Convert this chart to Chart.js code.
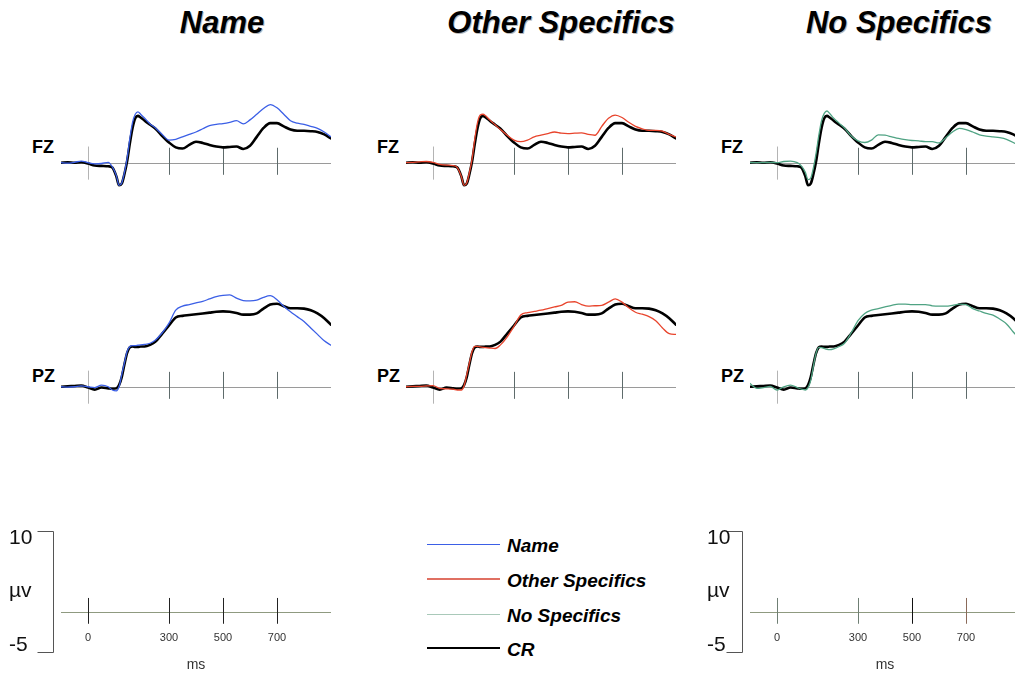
<!DOCTYPE html>
<html>
<head>
<meta charset="utf-8">
<script src="https://cdn.jsdelivr.net/npm/chart.js@4.4.1/dist/chart.umd.min.js"></script>
<style>
html,body{margin:0;padding:0;background:#fff;overflow:hidden;width:1015px;height:675px;position:relative;}
canvas{position:absolute;}
.title{position:absolute;top:7px;width:340px;text-align:center;font-family:"Liberation Sans",Arial,sans-serif;font-weight:bold;font-style:italic;font-size:31px;line-height:31px;color:#000;text-shadow:1px 1px 0 #b8b8b8;white-space:nowrap;}
.elec{position:absolute;font-family:"Liberation Sans",Arial,sans-serif;font-weight:bold;font-size:18px;line-height:18px;color:#000;}
.legtxt{position:absolute;left:507px;font-family:"Liberation Sans",Arial,sans-serif;font-weight:bold;font-style:italic;font-size:19px;line-height:19px;color:#000;white-space:nowrap;}
.legline{position:absolute;left:427px;width:73px;}
</style>
</head>
<body>
<script>
// ---------------- data ----------------
const TIMES = [-100,-75,-50,-25,0,25,50,75,90,105,115,125,135,145,155,165,175,185,195,210,230,250,
  275,300,325,350,375,400,425,450,475,500,525,550,575,600,625,650,675,700,725,750,775,800,825,850,875,900];

const FZ_CR = [0,0.05,0,0.05,-0.1,-0.35,-0.4,-0.45,
  -0.6,-1.7,-2.8,-2.6,-1.4,0.2,2.4,4.3,5.5,5.8,5.6,
  5.2,4.7,4.2,
  3.3,2.5,1.9,1.75,2.2,2.6,2.45,2.2,2.0,1.9,1.95,2.0,1.7,2.1,3.2,4.3,4.9,4.9,4.5,4.1,3.95,3.95,3.9,3.8,3.5,3.0];
const FZ_NAME = [0,-0.05,0.05,0.2,0.0,-0.15,-0.1,0.05,
  -0.5,-1.6,-2.8,-2.5,-1.2,0.6,3.0,5.0,6.0,6.3,6.0,
  5.5,4.8,4.3,
  3.5,2.8,2.9,3.2,3.5,3.8,4.2,4.6,4.75,4.85,5.0,5.2,4.8,5.3,6.0,6.7,7.2,6.8,6.0,5.2,4.9,4.75,4.5,4.25,3.8,3.2];
const FZ_OTHER = [0,0.05,0.1,0.15,0.05,-0.2,-0.3,-0.35,
  -0.6,-1.7,-2.8,-2.5,-1.2,0.5,3.0,5.0,5.9,6.0,5.8,
  5.3,4.7,4.1,
  3.4,2.8,2.6,2.8,3.2,3.4,3.6,3.8,3.65,3.6,3.65,3.7,3.5,3.4,4.5,5.5,5.9,5.6,5.0,4.5,4.2,4.0,4.0,3.9,3.5,3.2];
const FZ_NOSPEC = [0,0,0,0.05,0,0.15,0.2,0.0,
  -0.4,-1.2,-2.1,-1.9,-0.6,1.2,3.4,5.2,6.1,6.4,6.1,
  5.5,4.9,4.3,
  3.3,2.7,2.5,2.8,3.45,3.4,3.2,3.0,2.85,2.75,2.7,2.6,2.6,2.45,3.1,3.8,4.25,4.1,3.8,3.45,3.3,3.2,3.1,2.9,2.5,2.0];

const PZ_CR = [0,0.05,0.1,0.15,-0.1,-0.35,-0.1,-0.2,
  -0.25,-0.2,0.2,1.2,2.8,4.2,4.9,5.0,4.95,4.95,5.0,
  5.0,5.2,5.6,
  6.6,7.6,8.6,8.8,8.9,9.0,9.1,9.2,9.3,9.35,9.3,9.15,8.95,8.95,9.1,9.7,10.2,10.3,10.0,9.75,9.75,9.7,9.5,9.1,8.5,7.7];
const PZ_NAME = [0,-0.05,0,0.1,0,-0.1,0.2,0,
  -0.4,-0.5,0.0,1.5,3.0,4.4,5.0,5.1,5.1,5.15,5.2,
  5.25,5.4,5.8,
  6.7,7.9,9.5,10.0,10.2,10.4,10.6,10.9,11.2,11.35,11.4,11.0,10.7,10.65,10.75,11.1,11.3,10.8,10.0,9.3,8.7,8.1,7.3,6.5,5.7,5.15];
const PZ_OTHER = [0,0.05,0.05,0.1,0.15,-0.2,-0.25,-0.3,
  -0.4,-0.4,0.1,1.5,3.0,4.4,5.0,5.0,4.95,4.9,4.85,
  4.8,4.75,5.2,
  6.2,7.5,8.9,9.2,9.35,9.5,9.7,9.9,10.1,10.5,10.55,10.2,10.0,10.05,10.1,10.5,10.9,10.5,9.8,9.25,9.0,8.7,8.2,7.3,6.6,6.5];
const PZ_NOSPEC = [0.4,-0.2,-0.1,0.05,-0.4,0,0.2,-0.1,
  -0.3,-0.4,-0.1,0.8,2.6,4.2,4.9,4.85,4.75,4.65,4.6,
  4.7,5.0,5.4,
  6.7,8.2,9.1,9.5,9.7,9.9,10.1,10.25,10.25,10.2,10.2,10.2,10.05,10.0,10.0,10.1,10.25,10.2,9.7,9.4,9.1,8.9,8.4,7.8,6.8,5.9];

const CONDITIONS = ['Name','Other Specifics','No Specifics'];
const ELECTRODES = ['FZ','PZ'];
const LEGEND_LABELS = ['Name','Other Specifics','No Specifics','CR'];
const TICK_MS = [0,300,500,700];
const SCALE_UV = [10,-5];
const SCALE_UNIT = 'µv';
const TIME_UNIT = 'ms';

// ---------------- styles ----------------
const COND_COLORS = ['#3b5fe6','#e8442c','#4fa383'];
const LEGEND_COLORS = ['#3b5fe6','#e07062','#a9c9b9','#000000'];
const LEGEND_WIDTHS = [1,1.5,1,2.6];
const COL_LEFT = [61,406,750];        // pixel of -100 ms in each column
const PX_PER_MS = 0.27;
const ROWS = [{top:90,h:105,min:-4,max:9},{top:282,h:137,min:-4,max:13}];

// ---------------- plugin: baseline, ticks, scale labels ----------------
const erpAxis = {
  id:'erpAxis',
  beforeDatasetsDraw(chart, args, o){
    const {ctx, scales:{x,y}, chartArea} = chart;
    const y0 = Math.round(y.getPixelForValue(0)) + 0.5;
    ctx.save();
    ctx.lineWidth = 1;
    ctx.strokeStyle = o.baseColor;
    ctx.beginPath();
    ctx.moveTo(x.getPixelForValue(-100), y0);
    ctx.lineTo(x.getPixelForValue(900), y0);
    ctx.stroke();
    TICK_MS.forEach((t,i)=>{
      const px = Math.round(x.getPixelForValue(t)) + 0.5;
      const up = i===0 ? o.zeroUp : o.tickUp;
      const dn = i===0 ? o.zeroDn : o.tickDn;
      ctx.strokeStyle = (o.tickColors && o.tickColors[i]) || (i===0 ? o.zeroColor : o.tickColor);
      ctx.beginPath();
      ctx.moveTo(px, y.getPixelForValue(up));
      ctx.lineTo(px, y.getPixelForValue(-dn));
      ctx.stroke();
    });
    if (o.labels){
      ctx.fillStyle = '#333';
      ctx.font = '11px "Liberation Sans", Arial, sans-serif';
      ctx.textAlign = 'center';
      ctx.textBaseline = 'middle';
      TICK_MS.forEach(t=>{
        ctx.fillText(String(t), x.getPixelForValue(t), y0 + 25);
      });
      ctx.font = '14px "Liberation Sans", Arial, sans-serif';
      ctx.fillText(TIME_UNIT, x.getPixelForValue(400), y0 + 53);
      // bracket
      const bx = Math.round(chartArea.left - 8) + 0.5;
      const yt = Math.round(y.getPixelForValue(SCALE_UV[0])) + 0.5;
      const yb = Math.round(y.getPixelForValue(SCALE_UV[1])) + 0.5;
      ctx.strokeStyle = '#555';
      ctx.beginPath();
      ctx.moveTo(bx - 16, yt); ctx.lineTo(bx, yt); ctx.lineTo(bx, yb); ctx.lineTo(bx - 16, yb);
      ctx.stroke();
      ctx.fillStyle = '#111';
      ctx.font = '21px "Liberation Sans", Arial, sans-serif';
      ctx.textAlign = 'left';
      const lx = chartArea.left + o.labelDx;
      ctx.fillText(String(SCALE_UV[0]), lx, yt + 7);
      ctx.fillText(SCALE_UNIT, lx, y.getPixelForValue((SCALE_UV[0]+SCALE_UV[1])/2));
      ctx.fillText(String(SCALE_UV[1]), lx, yb - 7);
    }
    ctx.restore();
  }
};

function makeCanvas(left, top, w, h){
  const c = document.createElement('canvas');
  c.width = w; c.height = h;
  c.style.left = left + 'px'; c.style.top = top + 'px';
  c.style.width = w + 'px'; c.style.height = h + 'px';
  document.body.appendChild(c);
  return c;
}

function makeChart(canvas, padding, yMin, yMax, datasets, axisOpts){
  return new Chart(canvas, {
    type:'line',
    data:{datasets},
    options:{
      responsive:false, animation:false, events:[],
      devicePixelRatio:1,
      layout:{padding},
      plugins:{legend:{display:false}, tooltip:{enabled:false}, erpAxis:axisOpts},
      scales:{
        x:{type:'linear', min:-100, max:900, display:false},
        y:{type:'linear', min:yMin, max:yMax, display:false}
      },
      elements:{
        point:{radius:0},
        line:{cubicInterpolationMode:'monotone', borderCapStyle:'round', borderJoinStyle:'round'}
      }
    },
    plugins:[erpAxis]
  });
}

const pts = arr => TIMES.map((t,i)=>({x:t, y:arr[i]}));

const SERIES = {
  FZ:{cr:FZ_CR, cond:[FZ_NAME, FZ_OTHER, FZ_NOSPEC]},
  PZ:{cr:PZ_CR, cond:[PZ_NAME, PZ_OTHER, PZ_NOSPEC]}
};

const W = Math.round(1000 * PX_PER_MS); // 270 px for -100..900 ms

// titles
CONDITIONS.forEach((name,ci)=>{
  const d = document.createElement('div');
  d.className = 'title';
  d.textContent = name;
  const center = COL_LEFT[ci] + 27 + 400*PX_PER_MS + [26,20,14][ci];
  d.style.left = (center - 170) + 'px';
  document.body.appendChild(d);
});

// panels
ELECTRODES.forEach((el,ri)=>{
  const row = ROWS[ri];
  CONDITIONS.forEach((name,ci)=>{
    const cv = makeCanvas(COL_LEFT[ci], row.top, W, row.h);
    makeChart(cv, 0, row.min, row.max, [
      {label:name, data:pts(SERIES[el].cond[ci]), borderColor:COND_COLORS[ci], borderWidth:1.3, fill:false},
      {label:'CR', data:pts(SERIES[el].cr), borderColor:'#000', borderWidth:2.6, fill:false}
    ], {
      baseColor:'#9a9a9a', zeroColor:'#b4b4b4', tickColor:'#5e6b6b',
      zeroUp:2.0, zeroDn:2.1, tickUp:1.85, tickDn:1.5
    });
    const lab = document.createElement('div');
    lab.className = 'elec';
    lab.textContent = el;
    lab.style.left = (COL_LEFT[ci] - 29) + 'px';
    lab.style.top = (ri===0 ? 138 : 367) + 'px';
    document.body.appendChild(lab);
  });
});

// scale panels (left and right)
[{left:0, w:340, padL:61, labelDx:-52, tickColors:['#222','#222','#222','#222']},
 {left:690, w:340, padL:60, labelDx:-43, tickColors:['#6f7f74','#6f7f74','#111','#8a6a5a']}].forEach(s=>{
  const cv = makeCanvas(s.left, 520, s.w, 155);
  makeChart(cv, {left:s.padL, right:s.w - s.padL - W, top:11, bottom:23}, SCALE_UV[1], SCALE_UV[0], [], {
    baseColor:'#8f9a80', tickColors:s.tickColors,
    zeroUp:1.7, zeroDn:1.5, tickUp:1.7, tickDn:1.5,
    labels:true, labelDx:s.labelDx
  });
});

// legend
const LEG_Y = [544,579,614,648];
LEGEND_LABELS.forEach((lbl,i)=>{
  const ln = document.createElement('div');
  ln.className = 'legline';
  const lw = LEGEND_WIDTHS[i];
  ln.style.top = (LEG_Y[i] - lw/2) + 'px';
  ln.style.height = lw + 'px';
  ln.style.background = LEGEND_COLORS[i];
  document.body.appendChild(ln);
  const tx = document.createElement('div');
  tx.className = 'legtxt';
  tx.textContent = lbl;
  tx.style.top = (LEG_Y[i] - 8) + 'px';
  document.body.appendChild(tx);
});
</script>
</body>
</html>
